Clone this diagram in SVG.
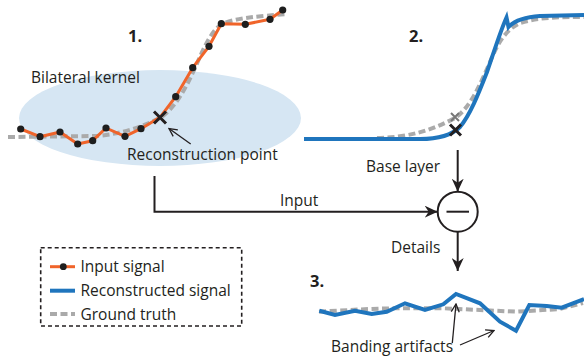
<svg xmlns="http://www.w3.org/2000/svg" width="584" height="360" viewBox="0 0 584 360">
<defs>
<marker id="ah" markerUnits="userSpaceOnUse" markerWidth="14" markerHeight="12" refX="13" refY="6" orient="auto">
<path d="M0,0 L13,6 L0,12 L4,6 z" fill="#231f20"/>
</marker>
<marker id="sh" markerUnits="userSpaceOnUse" markerWidth="10" markerHeight="10" refX="9" refY="5" orient="auto">
<path d="M1,1 L9,5 L1,9" fill="none" stroke="#231f20" stroke-width="1.3"/>
</marker>
</defs>
<style>
text{font-family:"Open Sans","Liberation Sans",sans-serif;font-size:15.5px;fill:#231f20}
.num{font-weight:bold;font-size:16.5px}
.gt{fill:none;stroke:#aaaaaa;stroke-width:4;stroke-dasharray:7 3.5}
.inp{fill:none;stroke:#f0642a;stroke-width:3;stroke-linejoin:round}
.rec{fill:none;stroke:#1f75bd;stroke-width:4;stroke-linejoin:miter}
.dot{fill:#1e1e1e}
.conn{fill:none;stroke:#231f20;stroke-width:2}
.thin{fill:none;stroke:#231f20;stroke-width:1.3}
.xm{stroke:#231f20;stroke-width:3}
</style>

<g id="panel1">
<ellipse cx="160" cy="118" rx="141" ry="48" fill="#d6e6f3"/>
<text class="num" x="128" y="42">1.</text>
<text x="31" y="83">Bilateral kernel</text>
<path class="gt" d="M8,137 L97,136 C120,134 140,128 160,118 C175,108 185,90 195,68 C205,45 212,30 222,24 C235,18 260,16 288,14"/>
<polyline class="inp" points="20.7,129 40,136.7 60,132 77.7,144 92.7,140.7 106,128 125,136.3 141,128.7 160,117.3 175.7,96.7 192.7,67.7 209,46.3 221.3,23.7 245.3,24.3 270,19.3 282.7,10"/>
<g class="dot">
<circle cx="20.7" cy="129" r="3.6"/><circle cx="40" cy="136.7" r="3.6"/><circle cx="60" cy="132" r="3.6"/><circle cx="77.7" cy="144" r="3.6"/><circle cx="92.7" cy="140.7" r="3.6"/><circle cx="106" cy="128" r="3.6"/><circle cx="125" cy="136.3" r="3.6"/><circle cx="141" cy="128.7" r="3.6"/><circle cx="175.7" cy="96.7" r="3.6"/><circle cx="192.7" cy="67.7" r="3.6"/><circle cx="209" cy="46.3" r="3.6"/><circle cx="221.3" cy="23.7" r="3.6"/><circle cx="245.3" cy="24.3" r="3.6"/><circle cx="270" cy="19.3" r="3.6"/><circle cx="282.7" cy="10" r="3.6"/>
</g>
<path class="xm" d="M154,111.5 L166,123.5 M166,111.5 L154,123.5"/>
<text x="127" y="160">Reconstruction point</text>
<line class="thin" x1="190.7" y1="144" x2="169" y2="128.5" marker-end="url(#sh)"/>
</g>

<g id="panel2">
<text class="num" x="409" y="42">2.</text>
<path class="gt" d="M377,138 C410,137 430,131 455,118 C470,108 480,85 490,62 C497,45 505,30 520,23 C540,17 560,17 584,17"/>
<path class="rec" d="M304,139 L420,139 C440,139 452,135 460,127 C470,115 478,95 487,72 C494,52 500,32 506.5,17.5 L508.5,27 C515,20 525,17 540,16 L584,15"/>
<path d="M451,113 L459,121 M459,113 L451,121" stroke="#777" stroke-width="2"/>
<path class="xm" d="M450,124.5 L461,135.5 M461,124.5 L450,135.5"/>
</g>

<g id="minus-node">
<circle cx="457.7" cy="211.7" r="20" fill="#fff" stroke="#231f20" stroke-width="2"/>
<line x1="446.5" y1="211.7" x2="469" y2="211.7" stroke="#231f20" stroke-width="2"/>
</g>

<g id="connectors">
<line class="conn" x1="457.7" y1="150" x2="457.7" y2="191.7" marker-end="url(#ah)"/>
<polyline class="conn" points="154.5,176 154.5,211.7 437.7,211.7" marker-end="url(#ah)"/>
<line class="conn" x1="457.7" y1="231.7" x2="457.7" y2="271" marker-end="url(#ah)"/>
<text x="366" y="172">Base layer</text>
<text x="280" y="206">Input</text>
<text x="391" y="253">Details</text>
</g>

<g id="panel3">
<text class="num" x="310" y="287">3.</text>
<path class="gt" d="M319,311.7 C350,310 380,308 406.7,308.3 L443.3,308.3 L480,310 L516.7,311.7 L560,309 L583,303"/>
<polyline class="rec" stroke-linejoin="miter" points="319.3,310.7 335,315 355,310.7 371.7,314 386.7,311.7 405,303.3 425,310 443.3,304.3 456,294 480,303.3 500,321.7 516,330.7 529.3,305 546.7,306 561.7,307.7 584,299"/>
<text x="331" y="352">Banding artifacts</text>
<line class="thin" x1="452.3" y1="343" x2="456" y2="304" marker-end="url(#sh)"/>
<line class="thin" x1="460" y1="345" x2="494" y2="330.5" marker-end="url(#sh)"/>
</g>

<g id="legend">
<rect x="40.7" y="247.7" width="201" height="78.3" fill="none" stroke="#231f20" stroke-width="1.6" stroke-dasharray="4 3"/>
<line x1="50" y1="266.7" x2="75" y2="266.7" stroke="#f0642a" stroke-width="3"/>
<circle class="dot" cx="63.3" cy="266.7" r="3.4"/>
<text x="80.5" y="272">Input signal</text>
<line x1="50" y1="290.7" x2="75" y2="290.7" stroke="#1f75bd" stroke-width="4"/>
<text x="80.5" y="296">Reconstructed signal</text>
<line x1="50" y1="314" x2="75" y2="314" stroke="#aaaaaa" stroke-width="4" stroke-dasharray="7 3.5"/>
<text x="80.5" y="319.5">Ground truth</text>
</g>
</svg>
